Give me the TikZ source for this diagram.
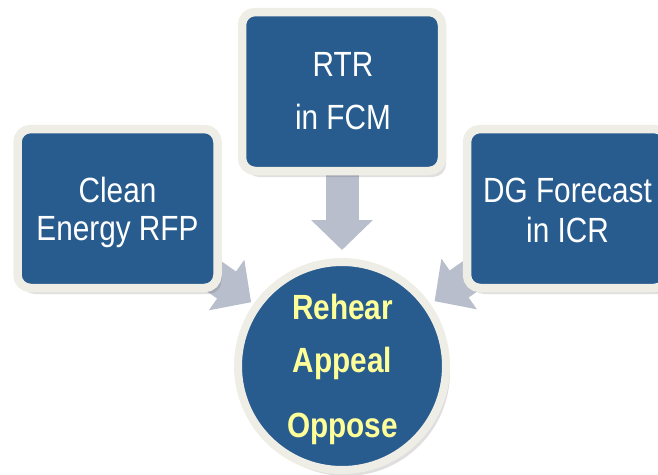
\documentclass[tikz,border=0pt]{standalone}
\usepackage{fontspec}
\newfontfamily\narrowsans{Liberation Sans}[FakeStretch=0.85]
\usetikzlibrary{arrows.meta,shadows}
\definecolor{boxblue}{HTML}{285C8E}
\definecolor{rimcream}{HTML}{EFEEE6}
\definecolor{arrowgray}{HTML}{B8BECB}
\definecolor{hubyellow}{HTML}{FFFF99}
\pgfdeclarelayer{background}
\pgfsetlayers{background,main}
\begin{document}
\begin{tikzpicture}[x=1pt,y=-1pt,
  softshadow/.style={drop shadow={shadow xshift=4pt, shadow yshift=-6pt, opacity=0.18, fill=black!70}},
  box/.style={rectangle, rounded corners=13pt, fill=boxblue, draw=rimcream, line width=8.5pt,
    minimum width=200pt, minimum height=159pt, inner sep=0pt, softshadow},
  hubnode/.style={circle, fill=boxblue, draw=rimcream, line width=8pt, minimum size=208pt,
    inner sep=0pt, softshadow},
  conn/.style={draw=arrowgray, line width=33pt, -{Triangle[width=60pt,length=30pt]}},
  boxtext/.style={text=white, font=\narrowsans\fontsize{35}{40}\selectfont, anchor=base, inner sep=0pt},
  hubtext/.style={text=hubyellow, font=\narrowsans\bfseries\fontsize{35}{40}\selectfont, anchor=base, inner sep=0pt}]
\useasboundingbox (0,0) rectangle (658,474);

% boxes
\node[box] (clean) at (117.5,208.5) {};
\node[box] (rtr) at (342,91.5) {};
\node[box] (dg) at (567,208.5) {};
\node[hubnode] (hub) at (342,366) {};

% connectors behind
\begin{pgfonlayer}{background}
  \draw[conn, shorten >=3pt] (clean.center) -- (hub);
  \draw[conn, shorten >=8pt] (rtr.center) -- (hub);
  \draw[conn, shorten >=5pt] (dg.center) -- (hub);
\end{pgfonlayer}

% texts
\node[boxtext] (cleanA) at (117.5,202) {Clean};
\node[boxtext] (cleanB) at (117.5,240) {Energy RFP};
\node[boxtext] (rtrA) at (343,76) {RTR};
\node[boxtext] (rtrB) at (343,129) {in FCM};
\node[boxtext] (dgA) at (567.5,202) {DG Forecast};
\node[boxtext] (dgB) at (567.5,242) {in ICR};
\node[hubtext] (hubA) at (342.5,319) {Rehear};
\node[hubtext] (hubB) at (342.5,372) {Appeal};
\node[hubtext] (hubC) at (342.5,437) {Oppose};
\end{tikzpicture}
\end{document}
